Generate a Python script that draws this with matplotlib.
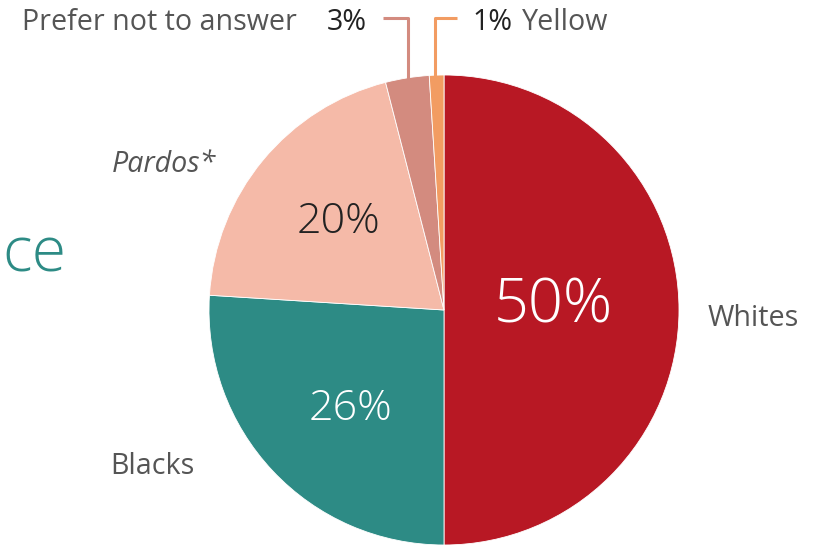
import matplotlib
matplotlib.use("Agg")
import matplotlib.pyplot as plt

categories = ["Whites", "Blacks", "Pardos*", "Prefer not to answer", "Yellow"]
values = [50, 26, 20, 3, 1]
pct_labels = ["50%", "26%", "20%", "3%", "1%"]
colors = ["#B81824", "#2D8B85", "#F5BAA8", "#D38B7F", "#F29C62"]

W, H = 821, 545
fig = plt.figure(figsize=(W / 100, H / 100), dpi=100)
ax = fig.add_axes([0, 0, 1, 1])

fam = ["Open Sans", "DejaVu Sans"]

def Y(y):
    return H - y

cx, cy, r = 444, Y(310), 235
ax.pie(values, colors=colors, startangle=90, counterclock=False,
       center=(cx, cy), radius=r, frame=True,
       wedgeprops=dict(linewidth=0.6, edgecolor="white"))
ax.set_xlim(0, W)
ax.set_ylim(0, H)
ax.axis("off")

gray = "#555555"
# inside percentages
ax.text(553, Y(307), pct_labels[0], color="white", fontsize=44, ha="center", va="center",
        family=fam, fontweight="light")
ax.text(350, Y(409), pct_labels[1], color="white", fontsize=31, ha="center", va="center",
        family=fam, fontweight="light")
ax.text(338, Y(222), pct_labels[2], color="#222222", fontsize=31, ha="center", va="center",
        family=fam, fontweight="light")

# outside labels
fs = 20.6
ax.text(708, Y(318), categories[0], color=gray, fontsize=fs, ha="left", va="center", family=fam)
ax.text(110, Y(467), categories[1], color=gray, fontsize=fs, ha="left", va="center", family=fam)
ax.text(112, Y(165), categories[2], color=gray, fontsize=fs, ha="left", va="center", family=fam,
        style="italic")
ax.text(297, Y(23), categories[3], color=gray, fontsize=fs, ha="right", va="center", family=fam)
ax.text(367, Y(23), pct_labels[3], color="#222222", fontsize=fs, ha="right", va="center", family=fam)
ax.text(472, Y(23), pct_labels[4], color="#222222", fontsize=fs, ha="left", va="center", family=fam)
ax.text(522, Y(23), categories[4], color=gray, fontsize=fs, ha="left", va="center", family=fam)

# leader lines
ax.plot([383, 408, 408], [Y(18), Y(18), Y(79)], color=colors[3], lw=2.2, solid_capstyle="butt")
ax.plot([457, 435, 435], [Y(18), Y(18), Y(76)], color=colors[4], lw=2.2, solid_capstyle="butt")

# cropped title (only its end is visible)
ax.text(2, Y(255), "ce", color="#2D8B85", fontsize=45, ha="left", va="center",
        family=fam, fontweight="light")

fig.savefig("out.png", dpi=100)
